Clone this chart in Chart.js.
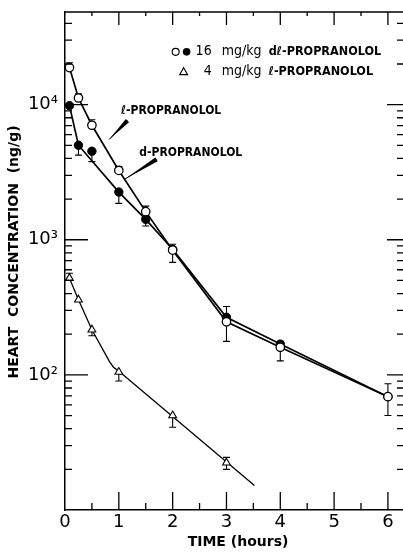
<!DOCTYPE html>
<html><head><meta charset="utf-8">
<script src="https://cdn.jsdelivr.net/npm/chart.js@4.4.0/dist/chart.umd.min.js"></script>
<style>html,body{margin:0;padding:0;background:#fff;overflow:hidden}#wrap{width:403px;height:552px;position:relative}</style>
</head><body><div id="wrap"><canvas id="c"></canvas></div>
<script>
// ---- data ----
const times   = [0.083, 0.25, 0.5, 1, 1.5, 2, 3, 4, 6];           // hours
const lConc   = [18800, 11200, 7040, 3260, 1615, 838, 247, 160, 69]; // open circles, l-propranolol (16 mg/kg dl)
const lErrHi  = [20400, 12050, 7740, 3480, 1775, 927, 321, 177, 86];
const lErrLo  = [null, null, null, null, null, 680, 177, 127, 50];
const dConc   = [9830, 5010, 4520, 2255, 1416, 850, 267, 169, 69];   // filled circles, d-propranolol (16 mg/kg dl)
const dErrHi  = [null, null, null, null, null, null, null, null, null];
const dErrLo  = [null, 4230, 3790, 1860, 1265, null, null, null, null];
const triTimes = [0.083, 0.25, 0.5, 1, 2, 3];                       // 4 mg/kg l-propranolol
const triConc  = [520, 360, 216, 105, 50, 22.4];
const triErrHi = [565, null, null, null, null, 24.5];
const triErrLo = [null, null, 195, 90, 41, 20];
// fitted curves drawn through the data
const lFitT   = [0.083, 0.25, 0.5, 1, 1.5, 2, 3, 4, 6];
const lFitC   = [18800, 11200, 7040, 3260, 1615, 838, 247, 160, 69];
const dFitT   = [0.083, 0.25, 1, 1.5, 2, 3, 4, 6];
const dFitC   = [9830, 5010, 2255, 1416, 850, 267, 169, 69];
const triFitT = [0.083, 0.25, 0.5, 0.83, 0.9, 0.98, 3.52];
const triFitC = [520, 360, 216, 125, 114, 108, 15.2];
// axes
const xTicks = [0, 1, 2, 3, 4, 5, 6];
const yTicks = [100, 1000, 10000];
const yTickLabels = {100: '10\u00B2', 1000: '10\u00B3', 10000: '10\u2074'};
const xTitle = 'TIME (hours)';
const yTitle = 'HEART  CONCENTRATION  (ng/g)';
// annotation labels (data coordinates)
const labelL = {text: '\u2113-PROPRANOLOL', t: 1.04, v: 9000, from: [0.82, 5520], to: [1.16, 7620]};
const labelD = {text: 'd-PROPRANOLOL', t: 1.38, v: 4400, from: [1.10, 2790], to: [1.70, 3930]};
const legendRows = [
  {dose: '16', unit: 'mg/kg', drug: 'd\u2113-PROPRANOLOL', t: 2.0, v: 24600},
  {dose: '4',  unit: 'mg/kg', drug: '\u2113-PROPRANOLOL',  t: 2.0, v: 17550}
];

const FONT = "'DejaVu Sans Condensed','DejaVu Sans',sans-serif";
const pts = (xs, ys) => xs.map((x, i) => ({x, y: ys[i]}));

const decor = {
  id: 'decor',
  beforeDatasetsDraw(chart) {
    const {ctx, scales: {x, y}} = chart;
    ctx.save();
    ctx.strokeStyle = '#000'; ctx.lineWidth = 1.1;
    const bars = [[times, lConc, lErrLo, lErrHi], [times, dConc, dErrLo, dErrHi], [triTimes, triConc, triErrLo, triErrHi]];
    for (const [ts, vs, lo, hi] of bars) {
      ts.forEach((t, i) => {
        const px = x.getPixelForValue(t), py = y.getPixelForValue(vs[i]);
        for (const e of [lo[i], hi[i]]) {
          if (e == null) continue;
          const ey = y.getPixelForValue(e);
          ctx.beginPath(); ctx.moveTo(px, py); ctx.lineTo(px, ey);
          ctx.moveTo(px - 3.5, ey); ctx.lineTo(px + 3.5, ey); ctx.stroke();
        }
      });
    }
    ctx.restore();
  },
  afterDraw(chart) {
    const {ctx, chartArea: a, scales: {x, y}} = chart;
    ctx.save();
    ctx.strokeStyle = '#000'; ctx.fillStyle = '#000'; ctx.lineWidth = 1.3;
    // top border
    ctx.beginPath(); ctx.moveTo(a.left, a.top); ctx.lineTo(a.right, a.top); ctx.stroke();
    // x ticks (inward)
    for (let h = 0.5; h <= 6; h += 0.5) {
      const px = x.getPixelForValue(h), major = Number.isInteger(h);
      ctx.beginPath();
      ctx.moveTo(px, a.bottom); ctx.lineTo(px, a.bottom - (major ? 18 : 7));
      ctx.moveTo(px, a.top); ctx.lineTo(px, a.top + (major ? 13 : 4));
      ctx.stroke();
    }
    // y ticks (inward) left & right
    for (let dec = 10; dec <= 10000; dec *= 10) {
      for (let m = 1; m <= 9; m++) {
        const v = dec * m;
        if (v >= 48500 || v <= 10) continue;
        const py = y.getPixelForValue(v), major = m === 1;
        ctx.beginPath();
        ctx.moveTo(a.left, py); ctx.lineTo(a.left + (major ? 23 : 7), py);
        ctx.moveTo(a.right, py); ctx.lineTo(a.right - (major ? 16 : 6), py);
        ctx.stroke();
      }
    }
    // axis titles
    ctx.font = 'bold 14px DejaVu Sans';
    ctx.textAlign = 'center'; ctx.textBaseline = 'middle';
    ctx.fillText(xTitle, 238, 542);
    ctx.save();
    ctx.translate(14, 252); ctx.rotate(-Math.PI / 2);
    ctx.fillText(yTitle, 0, 0);
    ctx.restore();
    // annotation labels with wedge pointers
    ctx.font = 'bold 12px ' + FONT;
    ctx.textBaseline = 'middle'; ctx.textAlign = 'left';
    for (const L of [labelL, labelD]) {
      ctx.fillText(L.text, x.getPixelForValue(L.t), y.getPixelForValue(L.v));
      const x1 = x.getPixelForValue(L.from[0]), y1 = y.getPixelForValue(L.from[1]);
      const x2 = x.getPixelForValue(L.to[0]), y2 = y.getPixelForValue(L.to[1]);
      const dx = x2 - x1, dy = y2 - y1, len = Math.hypot(dx, dy);
      const nx = -dy / len, ny = dx / len, w = 2.2;
      ctx.beginPath();
      ctx.moveTo(x1, y1);
      ctx.lineTo(x2 + nx * w, y2 + ny * w);
      ctx.lineTo(x2 - nx * w, y2 - ny * w);
      ctx.closePath(); ctx.fill();
      ctx.beginPath(); ctx.lineWidth = 1; ctx.moveTo(x1, y1); ctx.lineTo(x2, y2); ctx.stroke();
    }
    // legend
    legendRows.forEach((r, i) => {
      const bx = x.getPixelForValue(r.t), by = y.getPixelForValue(r.v);
      ctx.lineWidth = 1.1;
      if (i === 0) {
        ctx.beginPath(); ctx.arc(bx + 3, by, 3.5, 0, Math.PI * 2); ctx.fillStyle = '#fff'; ctx.fill(); ctx.stroke();
        ctx.beginPath(); ctx.arc(bx + 14, by, 3.8, 0, Math.PI * 2); ctx.fillStyle = '#000'; ctx.fill();
      } else {
        ctx.beginPath(); ctx.moveTo(bx + 11, by - 4); ctx.lineTo(bx + 15, by + 3); ctx.lineTo(bx + 7, by + 3); ctx.closePath(); ctx.stroke();
      }
      ctx.fillStyle = '#000';
      ctx.font = '14px ' + FONT;
      ctx.textAlign = 'right';
      ctx.fillText(r.dose, bx + 39, by);
      ctx.textAlign = 'left';
      ctx.fillText(r.unit, bx + 49, by);
      ctx.font = 'bold 12.5px ' + FONT;
      ctx.fillText(r.drug, bx + 96, by);
    });
    ctx.restore();
  }
};

new Chart(document.getElementById('c'), {
  type: 'scatter',
  data: {
    datasets: [
      {data: pts(times, lConc), pointRadius: 4.2, pointBackgroundColor: '#fff', pointBorderColor: '#000', pointBorderWidth: 1.3, showLine: false, order: 0},
      {data: pts(times, dConc), pointRadius: 4.2, pointBackgroundColor: '#000', pointBorderColor: '#000', pointBorderWidth: 1, showLine: false, order: 0},
      {data: pts(triTimes, triConc), pointStyle: 'triangle', pointRadius: 4.5, pointBackgroundColor: '#fff', pointBorderColor: '#000', pointBorderWidth: 1.1, showLine: false, order: 0},
      {data: pts(lFitT, lFitC), showLine: true, pointRadius: 0, borderColor: '#000', borderWidth: 1.7, order: 1},
      {data: pts(dFitT, dFitC), showLine: true, pointRadius: 0, borderColor: '#000', borderWidth: 1.7, order: 1},
      {data: pts(triFitT, triFitC), showLine: true, pointRadius: 0, borderColor: '#000', borderWidth: 1.3, order: 1}
    ]
  },
  options: {
    responsive: true, maintainAspectRatio: false, animation: false,
    layout: {autoPadding: false, padding: {top: 12, right: 0, left: 0, bottom: 0}},
    plugins: {legend: {display: false}, tooltip: {enabled: false}},
    scales: {
      x: {
        type: 'linear', min: 0, max: 6.28,
        afterBuildTicks: s => { s.ticks = xTicks.map(v => ({value: v})); },
        afterFit: s => { s.height = 42; s.paddingLeft = 0; s.paddingRight = 0; },
        ticks: {font: {size: 18, family: 'DejaVu Sans'}, color: '#000', padding: 2, maxRotation: 0, autoSkip: false},
        grid: {display: false, drawTicks: false},
        border: {color: '#000', width: 1.5},
        title: {display: false}
      },
      y: {
        type: 'logarithmic', min: 10, max: 48500,
        afterBuildTicks: s => { s.ticks = yTicks.map(v => ({value: v})); },
        afterFit: s => { s.width = 65; s.paddingTop = 0; s.paddingBottom = 0; },
        ticks: {callback: v => yTickLabels[v] || '', font: {size: 18, family: 'DejaVu Sans'}, color: '#000', padding: 7, autoSkip: false},
        grid: {display: false, drawTicks: false},
        border: {color: '#000', width: 1.5},
        title: {display: false}
      }
    }
  },
  plugins: [decor]
});
</script></body></html>
